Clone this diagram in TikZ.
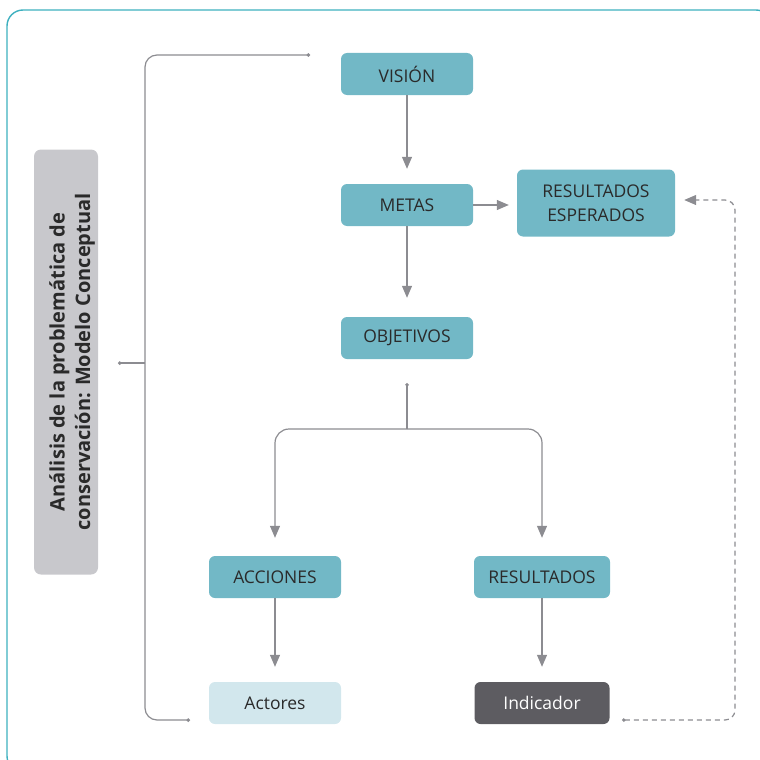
\documentclass[tikz,border=0pt]{standalone}
\usepackage{fontspec}
\setmainfont{Open Sans}
\usepackage{xcolor}
\usepackage{tikz}
\usetikzlibrary{arrows.meta, positioning}
\definecolor{mcTeal}{HTML}{72B8C6}
\definecolor{mcHell}{HTML}{D2E7ED}
\definecolor{mcDunkel}{HTML}{5D5C61}
\definecolor{mcSeite}{HTML}{C8C8CC}
\definecolor{mcLinie}{HTML}{8C8C91}
\definecolor{mcRahmen}{HTML}{3DB0BF}
\definecolor{mcText}{HTML}{2A2A2A}

\begin{document}
\begin{tikzpicture}[
  x=1pt, y=-1pt,
  every node/.style={font=\fontsize{17.5}{23.5}\selectfont, align=center,
                     inner sep=0pt, text=mcText},
  box/.style={fill=mcTeal, rounded corners=6pt,
              minimum width=132pt, minimum height=42pt},
  actorbox/.style={box, fill=mcHell},
  indbox/.style={box, fill=mcDunkel, text=white},
  sidebox/.style={fill=mcSeite, rounded corners=7pt,
                  minimum width=64pt, minimum height=425pt},
  sidetext/.style={rotate=90, font=\bfseries\fontsize{20}{25.5}\selectfont},
  line/.style={draw=mcLinie, line width=1.2pt},
  arrow/.style={line, -{Triangle[length=12pt, width=10pt]}},
  dotted end/.style={line, {Circle[length=3.5pt]}-{Circle[length=3.5pt]}},
  dasharrow/.style={line, dash pattern=on 5pt off 4pt,
                    {Circle[length=3.5pt]}-{Triangle[length=12pt, width=10pt]}},
]
\useasboundingbox (0,0) rectangle (760,760);
\clip (0,0) rectangle (760,760);

% --- Frame -----------------------------------------------------------
\draw[draw=mcRahmen, line width=1.4pt, rounded corners=16pt]
  (7,10) rectangle (772,772);

% --- Side label ------------------------------------------------------
\node[sidebox] (modelo) at (66,362) {};
\node[sidetext] (modelotext) at (72,362)
  {Análisis de la problemática de\\conservación: Modelo Conceptual};

% --- Boxes -----------------------------------------------------------
\node[box] (vision)    at (407,74)  {VISIÓN};
\node[box] (metas)     at (407,205) {METAS};
\node[box, minimum width=158pt, minimum height=67pt]
           (esperados) at (596,203) {RESULTADOS\\ESPERADOS};
\node[box] (objetivos) at (407,338) {OBJETIVOS};
\node[box] (acciones)  at (275,577) {ACCIONES};
\node[box, minimum width=136pt] (resultados) at (542,577) {RESULTADOS};
\node[actorbox] (actores)   at (275,703) {Actores};
\node[indbox, minimum width=135pt] (indicador) at (542,703) {Indicador};

% --- Bracket joining the side label to the chain ---------------------
\coordinate (brtop) at (310,55);
\coordinate (brbot) at (190,720);
\coordinate (brtick) at (118,363);
\draw[dotted end, rounded corners=12pt]
  (brtop) -- (145,55) -- (145,720) -- (brbot);
\draw[line, {Circle[length=3.5pt]}-] (brtick) -- (145,363);

% --- Main chain ------------------------------------------------------
\draw[arrow, shorten >=15pt] (vision) -- (metas);
\draw[arrow, shorten >=8pt]  (metas) -- (metas -| esperados.west);
\draw[arrow, shorten >=19pt] (metas) -- (objetivos);

% Fork from OBJETIVOS to ACCIONES / RESULTADOS.
\coordinate (split) at (407,383);
\draw[line, {Circle[length=3.5pt]}-] (split) -- (407,429) coordinate (fork);
\draw[arrow, rounded corners=14pt, shorten >=18pt]
  (fork) -| (acciones.north);
\draw[arrow, rounded corners=14pt, shorten >=18pt]
  (fork) -| (resultados.north);

\draw[arrow, shorten >=15pt] (acciones) -- (actores);
\draw[arrow, shorten >=15pt] (resultados) -- (indicador);

% --- Feedback: Indicador back to RESULTADOS ESPERADOS ----------------
\coordinate (fbstart) at (622,720);
\draw[dasharrow, rounded corners=10pt, shorten >=9pt]
  (fbstart) -- (735,720) -- (735,200) -- ([yshift=3pt]esperados.east);
\end{tikzpicture}
\end{document}
